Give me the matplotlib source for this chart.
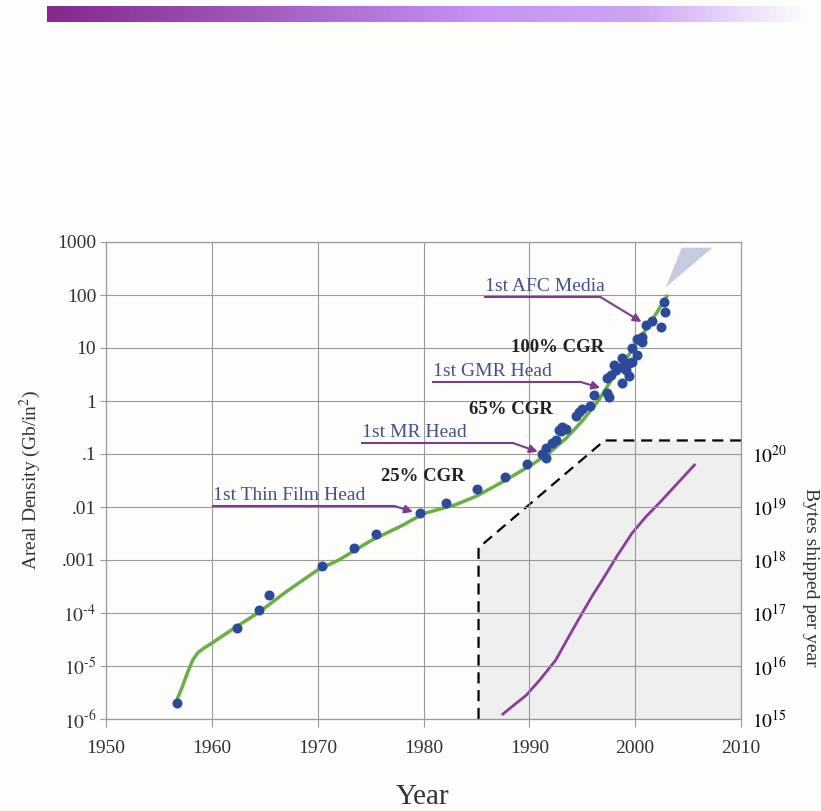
import numpy as np
import matplotlib
matplotlib.use('Agg')
import matplotlib.pyplot as plt
from matplotlib.colors import LinearSegmentedColormap
from matplotlib.ticker import FixedLocator, FixedFormatter, NullLocator

plt.rcParams['font.family'] = ['Liberation Serif', 'DejaVu Serif']
plt.rcParams['mathtext.fontset'] = 'stix'

# areal density trend (Gb/in^2)
trend_year = [1956.7, 1957.2, 1957.7, 1958.2, 1958.7, 1959.3, 1960, 1962, 1964.5, 1967,
              1970, 1972, 1975, 1978, 1980, 1983, 1985, 1987.5, 1989, 1990.5,
              1992, 1993.5, 1995, 1996.5, 1998, 2000, 2002, 2003]
trend_density = [2.3e-6, 4e-6, 7.5e-6, 1.3e-5, 1.8e-5, 2.2e-5, 2.7e-5, 5e-5, 1.05e-4, 2.5e-4,
                 6.5e-4, 1e-3, 2.3e-3, 4.5e-3, 7.5e-3, 1.1e-2, 1.6e-2, 3e-2, 4.5e-2, 6.8e-2,
                 0.11, 0.2, 0.42, 1.0, 3.0, 11, 45, 95]

# product data points
point_year = [1956.7, 1962.4, 1964.5, 1965.4, 1970.4, 1973.4, 1975.5, 1979.7, 1982.1, 1985.1,
              1987.7, 1989.8, 1991.2, 1991.6, 1991.6, 1992.1, 1992.5, 1992.8, 1993.0, 1993.1,
              1993.5, 1994.4, 1994.7, 1995.0, 1995.7, 1996.1, 1997.3, 1997.5, 1997.3, 1997.7,
              1998.2, 1998.0, 1998.8, 1998.8, 1999.1, 1998.8, 1999.4, 1999.4, 1999.7, 2000.2,
              1999.7, 2000.2, 2000.6, 2000.6, 2001.0, 2001.6, 2002.4, 2002.7, 2002.8]
point_density = [2e-6, 5.2e-5, 1.15e-4, 2.2e-4, 7.7e-4, 1.7e-3, 3.1e-3, 7.7e-3, 1.2e-2, 2.2e-2,
                 3.7e-2, 6.5e-2, 0.10, 0.085, 0.13, 0.16, 0.18, 0.28, 0.27, 0.32,
                 0.30, 0.53, 0.62, 0.72, 0.82, 1.3, 1.4, 1.2, 2.7, 3.1,
                 3.9, 4.8, 6.5, 4.4, 3.9, 2.2, 2.9, 5.2, 5.5, 7.3,
                 10, 15, 16, 13, 27, 33, 25, 73, 48]

# projection wedge
wedge_year = [2002.9, 2004.4, 2007.3]
wedge_density = [140, 780, 780]

# bytes shipped per year (right axis)
bytes_year = [1987.5, 1988.5, 1989.7, 1991.0, 1992.5, 1993.7, 1995.0, 1996.0, 1996.9,
              1998.3, 1999.7, 2001.0, 2002.3, 2004.0, 2005.6]
bytes_shipped = [1.24e15, 1.8e15, 2.8e15, 5.5e15, 1.3e16, 3.5e16, 1e17, 2.2e17, 4.2e17,
                 1.2e18, 3.2e18, 6.5e18, 1.2e19, 2.8e19, 6.2e19]

# capacity envelope (dashed)
envelope_year = [1985.2, 1985.2, 1997.1, 2010]
envelope_bytes = [1e15, 1.7e18, 1.8e20, 1.8e20]

# milestone annotations
ann_labels = ['1st AFC Media', '1st GMR Head', '1st MR Head', '1st Thin Film Head']
ann_text_year = [1985.8, 1980.9, 1974.2, 1960.1]
ann_line_y = [92, 2.3, 0.16, 0.0105]
ann_bend_year = [1996.7, 1994.8, 1988.5, 1977.2]
ann_target_year = [2000.6, 1996.7, 1990.8, 1979.0]
ann_target_y = [31, 1.77, 0.11, 8.1e-3]

cgr_labels = ['100% CGR', '65% CGR', '25% CGR']
cgr_year = [1997.1, 1992.2, 1983.9]
cgr_y = [10, 0.68, 0.037]

left_ticks = [1e-6, 1e-5, 1e-4, 1e-3, 1e-2, 1e-1, 1, 10, 100, 1000]
left_ticklabels = ['$10^{\\text{-}6}$', '$10^{\\text{-}5}$', '$10^{\\text{-}4}$',
                   '.001', '.01', '.1', '1', '10', '100', '1000']
right_ticks = [1e15, 1e16, 1e17, 1e18, 1e19, 1e20]
right_ticklabels = ['$10^{15}$', '$10^{16}$', '$10^{17}$', '$10^{18}$', '$10^{19}$', '$10^{20}$']
year_ticks = [1950, 1960, 1970, 1980, 1990, 2000, 2010]

BG = '#fdfdfb'
GRID = '#9a9a9a'
PURPLE = '#7b3d8a'
TEXTBLUE = '#46508a'

fig = plt.figure(figsize=(8.21, 8.11), dpi=100, facecolor=BG)

# header gradient bar
bar = fig.add_axes([47 / 821, 1 - 22 / 811, 759 / 821, 16 / 811])
cmap = LinearSegmentedColormap.from_list('hdr', [
    (0.0, '#86288c'), (0.3, '#a45fc4'), (0.58, '#c794f5'),
    (0.78, '#cba5f2'), (0.9, '#e6d6fa'), (1.0, BG)])
bar.imshow(np.linspace(0, 1, 400)[None, :], aspect='auto', cmap=cmap)
bar.axis('off')

ax = fig.add_axes([106 / 821, 1 - 719 / 811, 635 / 821, 477 / 811])
ax2 = ax.twinx()
ax.set_zorder(ax2.get_zorder() + 1)
ax.patch.set_visible(False)
ax2.set_facecolor(BG)

# right axis: bytes shipped
ax2.set_yscale('log')
ax2.set_ylim(1e15, 1e24)
ax2.fill_between(envelope_year, envelope_bytes, 1e15, color='#efefef', lw=0, zorder=0)
ax2.plot(envelope_year, envelope_bytes, color='black', lw=1.6, ls=(0, (5, 3)))
ax2.plot(bytes_year, bytes_shipped, color='#8a3d9a', lw=2)
ax2.yaxis.set_major_locator(FixedLocator(right_ticks))
ax2.yaxis.set_major_formatter(FixedFormatter(right_ticklabels))
ax2.yaxis.set_minor_locator(NullLocator())
ax2.tick_params(axis='y', length=0, pad=8, labelsize=14)
for s in ax2.spines.values():
    s.set_visible(False)

# left axis: areal density
ax.set_yscale('log')
ax.set_xlim(1950, 2010)
ax.set_ylim(1e-6, 1000)
ax.grid(True, color=GRID, lw=0.8)
ax.set_axisbelow(True)
ax.xaxis.set_major_locator(FixedLocator(year_ticks))
ax.yaxis.set_major_locator(FixedLocator(left_ticks))
ax.yaxis.set_major_formatter(FixedFormatter(left_ticklabels))
ax.yaxis.set_minor_locator(NullLocator())
ax.tick_params(axis='both', color=GRID, labelsize=14, labelcolor='#333333')
ax.tick_params(axis='x', length=6, pad=9)
ax.tick_params(axis='y', length=4, pad=3)
for s in ax.spines.values():
    s.set_color(GRID)
    s.set_linewidth(0.9)

ax.fill(wedge_year, wedge_density, color='#c6cce0', lw=0, zorder=2)
ax.plot(trend_year, trend_density, color='#6aae45', lw=2.5, zorder=3)
ax.scatter(point_year, point_density, s=52, color='#2c4a9a', zorder=4, lw=0)

for lab, tx, ly, bx, gx, gy in zip(ann_labels, ann_text_year, ann_line_y,
                                   ann_bend_year, ann_target_year, ann_target_y):
    ax.text(tx, ly * 1.08, lab, fontsize=14, color=TEXTBLUE, ha='left', va='bottom', zorder=5)
    ax.plot([tx, bx], [ly, ly], color=PURPLE, lw=1.5, zorder=5)
    ax.annotate('', xy=(gx, gy), xytext=(bx, ly),
                arrowprops=dict(arrowstyle='-|>', color=PURPLE, lw=1.5,
                                mutation_scale=12, shrinkA=0, shrinkB=0), zorder=5)

for lab, cx, cy in zip(cgr_labels, cgr_year, cgr_y):
    ax.text(cx, cy, lab, fontsize=13.5, fontweight='bold', color='#222222',
            ha='right', va='center', zorder=5)

fig.text(30 / 821, 1 - 480 / 811, 'Areal Density (Gb/in$^2$)', rotation=90,
         ha='center', va='center', fontsize=14, color='#333333')
fig.text(810 / 821, 1 - 577 / 811, 'Bytes shipped per year', rotation=-90,
         ha='center', va='center', fontsize=14, color='#333333')
fig.text(423 / 821, 1 - 797 / 811, 'Year', ha='center', va='center',
         fontsize=21, color='#333333')

fig.savefig('out.png', dpi=100, facecolor=BG)
